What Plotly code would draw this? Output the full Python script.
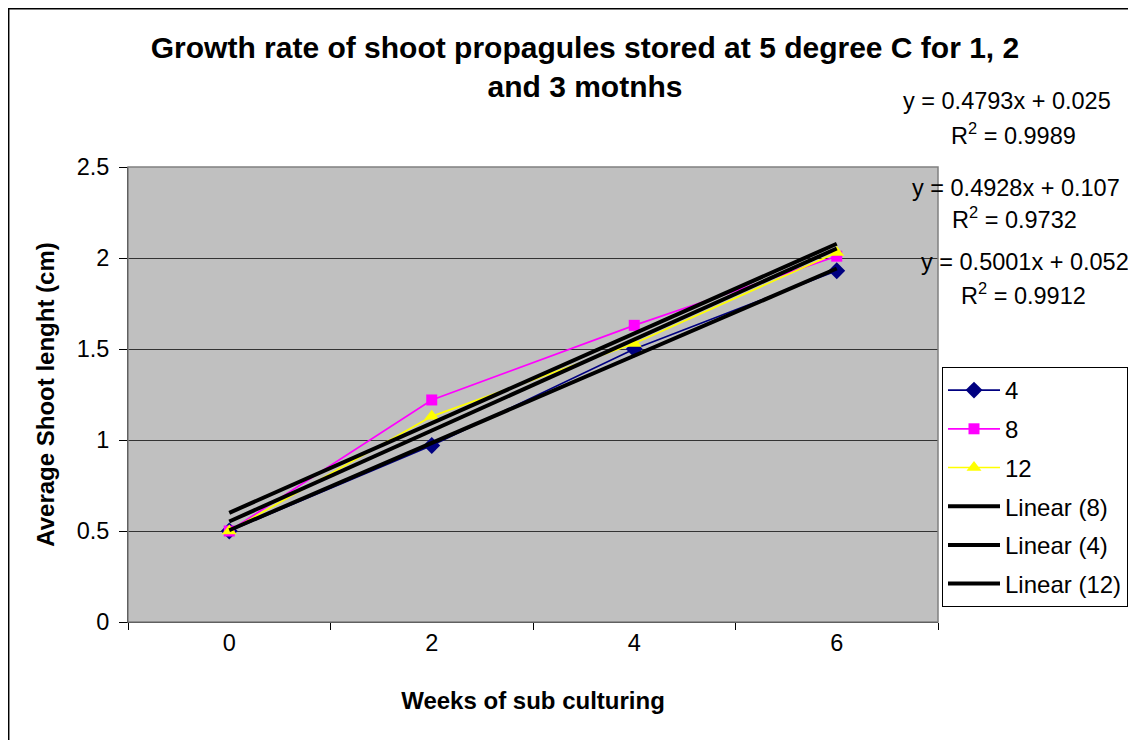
import plotly.graph_objects as go

# ---- data ----
weeks = ["0", "2", "4", "6"]
s4 = [0.50, 0.97, 1.50, 1.93]
s8 = [0.50, 1.22, 1.63, 2.01]
s12 = [0.50, 1.13, 1.53, 2.03]

# trendline coefficients (Excel category index x = 1..4)
trend_names = ["Linear (8)", "Linear (4)", "Linear (12)"]
trend_slope = [0.4928, 0.4793, 0.5001]
trend_icpt = [0.107, 0.025, 0.052]

eq_lines = [
    "y = 0.4793x + 0.025", "R<sup>2</sup> = 0.9989",
    "y = 0.4928x + 0.107", "R<sup>2</sup> = 0.9732",
    "y = 0.5001x + 0.052", "R<sup>2</sup> = 0.9912",
]

OFF = 8  # default body margin of the page
W, H = 1136 - OFF, 740 - OFF
L, R, T, B = 128 - OFF, 938 - OFF, 167 - OFF, 622 - OFF


def px(xp):
    return (xp - OFF - L) / (R - L)


def py(yp):
    return (B - (yp - OFF)) / (B - T)


font = "Liberation Sans, Arial, sans-serif"
FS = 23.5
fig = go.Figure()

series = [
    ("4", s4, "#000080", "diamond", 13),
    ("8", s8, "#FF00FF", "square", 11),
    ("12", s12, "#FFFF00", "triangle-up", 13),
]
for i, (name, ys, col, sym, sz) in enumerate(series):
    fig.add_trace(go.Scatter(
        x=weeks, y=ys, name=name, mode="lines+markers",
        line=dict(color=col, width=1.7),
        marker=dict(symbol=sym, size=sz, color=col, line=dict(width=0)),
        legendgroup="g%d" % i,
    ))

for j, (nm, m, c) in enumerate(zip(trend_names, trend_slope, trend_icpt)):
    xi = [1, 4]
    ys = [m * v + c for v in xi]
    fig.add_trace(go.Scatter(
        x=[weeks[0], weeks[-1]], y=ys, name=nm, mode="lines",
        line=dict(color="black", width=4),
        legendgroup="t%d" % j,
    ))

fig.update_layout(
    width=W, height=H,
    margin=dict(l=L, r=W - R, t=T, b=H - B, autoexpand=False),
    paper_bgcolor="white",
    plot_bgcolor="#C0C0C0",
    font=dict(family=font, size=FS, color="black"),
    title=dict(
        text="<b>Growth rate of shoot propagules stored at 5 degree C for 1, 2<br>and 3 motnhs</b>",
        x=(585 - OFF) / W, xanchor="center", y=1 - (58 - OFF) / H, yanchor="top",
        font=dict(size=30, family=font),
    ),
    xaxis=dict(
        type="category", tickson="boundaries", ticks="outside", ticklen=7,
        tickcolor="black", showline=True, linecolor="black", linewidth=1,
        showgrid=False, zeroline=False, range=[-0.5, 3.5],
        title=dict(text="<b>Weeks of sub culturing</b>", standoff=36,
                   font=dict(size=24)),
        tickfont=dict(size=FS),
    ),
    yaxis=dict(
        range=[0, 2.5], dtick=0.5, tick0=0, ticks="outside", ticklen=8,
        tickcolor="black", showline=True, linecolor="black", linewidth=1,
        showgrid=True, gridcolor="#333333", gridwidth=1, zeroline=False,
        ticklabelstandoff=5,
        title=dict(text="<b>Average Shoot lenght (cm)</b>", standoff=15,
                   font=dict(size=24)),
        tickfont=dict(size=FS),
    ),
    legend=dict(
        x=px(942), xanchor="left",
        y=py(367), yanchor="top",
        bgcolor="white", bordercolor="black", borderwidth=1,
        font=dict(size=24), tracegroupgap=4.5, itemwidth=52,
        traceorder="grouped",
    ),
    showlegend=True,
)

# plot area border
fig.add_shape(type="rect", xref="paper", yref="paper", x0=0, x1=1, y0=0, y1=1,
              line=dict(color="#808080", width=1.5), layer="above")
# outer chart border
fig.add_shape(type="rect", xref="paper", yref="paper",
              x0=px(8.7), x1=px(1150), y0=py(760), y1=py(8.7),
              line=dict(color="black", width=1.5), layer="below")

eq_pos = [(1007, 101), (1013, 134), (1016, 188), (1014, 218), (1025, 262), (1024, 294)]
for txt, (xp, yp) in zip(eq_lines, eq_pos):
    fig.add_annotation(
        text=txt, xref="paper", yref="paper",
        x=px(xp), y=py(yp),
        xanchor="center", yanchor="middle", showarrow=False,
        font=dict(size=FS, family=font), align="center",
    )

fig.write_html("out.html")
